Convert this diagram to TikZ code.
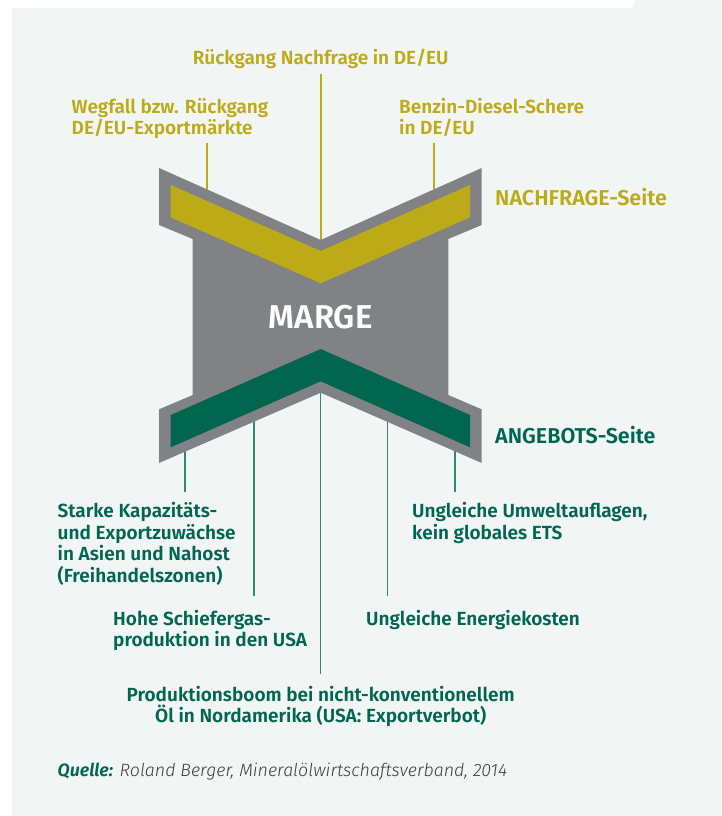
\documentclass[tikz,border=0pt]{standalone}
\usepackage{fontspec}
\setmainfont{Fira Sans}[BoldFont={Fira Sans SemiBold},BoldItalicFont={Fira Sans SemiBold Italic},ItalicFont={Fira Sans Light Italic}]
\usepackage{tikz}
\usetikzlibrary{calc}
\usetikzlibrary{positioning}
\definecolor{panel}{HTML}{F1F5F4}
\definecolor{margegray}{HTML}{818286}
\definecolor{nfyellow}{HTML}{BDAA17}
\definecolor{angreen}{HTML}{00664F}
\definecolor{angline}{HTML}{2E8A76}
\definecolor{srcgray}{HTML}{3C3C3C}

\begin{document}
\begin{tikzpicture}[x=1pt,y=-1pt]
  \tikzstyle{lbl}=[inner sep=0pt,align=left,font=\bfseries\fontsize{19}{21.8}\selectfont]
  \tikzstyle{nflbl}=[lbl,text=nfyellow]
  \tikzstyle{anlbl}=[lbl,text=angreen]
  \tikzstyle{sidelbl}=[inner sep=0pt,font=\bfseries\fontsize{21.5}{24}\selectfont]
  \tikzstyle{nfline}=[draw=nfyellow,line width=1.8pt]
  \tikzstyle{anline}=[draw=angline,line width=1.4pt]
  \useasboundingbox (0,0) rectangle (722,816);
  \fill[panel] (12,8) -- (632,8) -- (635,0) -- (722,0) -- (722,816) -- (12,816) -- cycle;

  \node[nflbl,anchor=base] (rueck) at (320.7,64) {Rückgang Nachfrage in DE/EU};
  \node[nflbl,anchor=base west] (wegfall) at (71.5,134.8) {Wegfall bzw. Rückgang\\DE/EU-Exportmärkte};
  \node[nflbl,anchor=base west] (benzin) at (399,134.8) {Benzin-Diesel-Schere\\in DE/EU};
  \node[sidelbl,text=nfyellow,anchor=base west] (nachfrage) at (495,205) {NACHFRAGE-Seite};
  \node[sidelbl,text=angreen,anchor=base west] (angebot) at (495,443.3) {ANGEBOTS-Seite};
  \node[anlbl,anchor=base west] (starke) at (57.5,582.7) {Starke Kapazitäts-\\und Exportzuwächse\\in Asien und Nahost\\(Freihandelszonen)};
  \node[anlbl,anchor=base west] (umwelt) at (412,539.1) {Ungleiche Umweltauflagen,\\kein globales ETS};
  \node[anlbl,anchor=base west] (schiefer) at (113,646.8) {Hohe Schiefergas-\\produktion in den USA};
  \node[anlbl,anchor=base west] (energie) at (366,625) {Ungleiche Energiekosten};
  \node[anlbl,anchor=base,align=center] (boom) at (320.7,722.8) {Produktionsboom bei nicht-konventionellem\\Öl in Nordamerika (USA: Exportverbot)};
  \node[inner sep=0pt,anchor=base west,font=\itshape\fontsize{17.8}{20}\selectfont,text=srcgray] (quelle) at (57.5,776.7) {\textbf{\color{angreen}Quelle:} Roland Berger, Mineralölwirtschaftsverband, 2014};

  \foreach \x/\ytop/\yend/\name in {207/143/200/wegfall-pt, 320.7/74/250/rueck-pt, 433.7/143/200/benzin-pt}
    \draw[nfline] (\x,\ytop) coordinate (\name) -- (\x,\yend);
  \foreach \x/\ybot/\yend/\name in {185/491.7/440/starke-pt, 254/596/410/schiefer-pt, 320.7/674/385/boom-pt, 387.7/596/410/energie-pt, 455/491.7/440/umwelt-pt}
    \draw[anline] (\x,\ybot) coordinate (\name) -- (\x,\yend);

  \fill[margegray] (159,168) -- (320.7,240) -- (481.7,168) -- (481.7,225) -- (448.3,239) -- (448.3,395)
    -- (481.7,409.3) -- (481.7,463) -- (320.7,392.7) -- (159,463) -- (159,409.3) -- (192.7,395)
    -- (192.7,239) -- (159,225) -- cycle;
  \fill[nfyellow] (170.7,185) -- (320.7,251) -- (470,185) -- (470,217.3) -- (320.7,283.3) -- (170.7,217.3) -- cycle;
  \fill[angreen] (170.7,415) -- (320.7,349) -- (470,415) -- (470,447.3) -- (320.7,381.3) -- (170.7,447.3) -- cycle;
  \node[inner sep=0pt,text=white,font=\bfseries\fontsize{33}{33}\selectfont] (marge) at (320.7,316.7) {MARGE};
\end{tikzpicture}
\end{document}
